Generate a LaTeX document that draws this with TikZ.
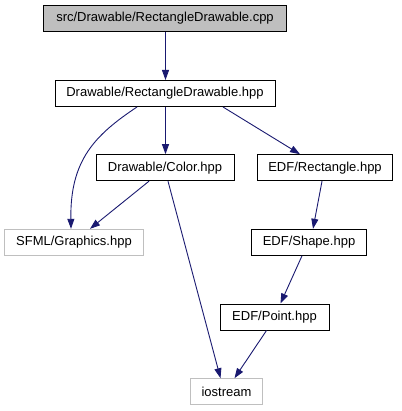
\documentclass[tikz,border=0pt]{standalone}
\usepackage{fontspec}
\setmainfont{Liberation Sans}
\usetikzlibrary{arrows.meta, positioning}
\definecolor{edgeblue}{RGB}{25, 25, 112}
\definecolor{boxgray}{RGB}{191, 191, 191}

\begin{document}
\begin{tikzpicture}[
    x=1pt, y=-1pt,
    file/.style={rectangle, draw=black, line width=1pt, fill=white, inner sep=0pt, minimum height=26pt, font=\fontsize{13pt}{15pt}\selectfont},
    extfile/.style={file, draw=boxgray},
    srcfile/.style={file, fill=boxgray},
    arrow/.style={-{Triangle[length=10pt, width=7pt]}, line width=0.9pt, edgeblue}
]
    \useasboundingbox (0,0) rectangle (401,411);

    % Source and its header
    \node[srcfile, minimum width=243pt] (cpp) at (165, 18.5) {src/Drawable/RectangleDrawable.cpp};
    \node[file, minimum width=220pt] (hpp) at (165, 93.5) {Drawable/RectangleDrawable.hpp};

    % Second row
    \node[file, minimum width=138pt] (color) at (165, 167.7) {Drawable/Color.hpp};
    \node[file, minimum width=135pt] (rect) at (325, 167.7) {EDF/Rectangle.hpp};

    % Third row
    \node[extfile, minimum width=139pt] (sfml) at (74, 242.3) {SFML/Graphics.hpp};
    \node[file, minimum width=115pt] (shape) at (309, 242.3) {EDF/Shape.hpp};

    % Bottom rows
    \node[file, minimum width=109pt] (point) at (274.5, 317) {EDF/Point.hpp};
    \node[extfile, minimum width=72pt] (ios) at (226.5, 391.7) {iostream};

    % Includes
    \draw[arrow] ([xshift=0.5pt]cpp.south) -- ([xshift=0.5pt]hpp.north);
    \draw[arrow] ([xshift=0.5pt]hpp.south) -- ([xshift=0.5pt]color.north);
    \draw[arrow] ([xshift=58pt]hpp.south) -- ([xshift=-25pt]rect.north);
    \draw[arrow] ([xshift=-28pt]hpp.south) .. controls (95,135) and (70,160) .. ([xshift=-3pt]sfml.north);
    \draw[arrow] ([xshift=-16pt]color.south) -- ([xshift=16pt]sfml.north);
    \draw[arrow] ([xshift=3pt]color.south) -- ([xshift=-6pt]ios.north);
    \draw[arrow] ([xshift=-3pt]rect.south) -- ([xshift=4pt]shape.north);
    \draw[arrow] ([xshift=-7pt]shape.south) -- ([xshift=6pt]point.north);
    \draw[arrow] ([xshift=-8pt]point.south) -- ([xshift=8pt]ios.north);

\end{tikzpicture}
\end{document}
